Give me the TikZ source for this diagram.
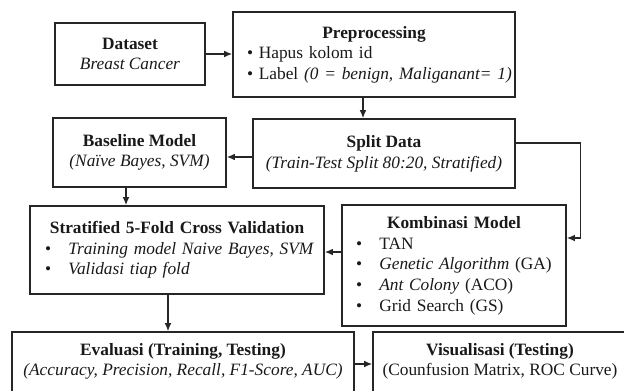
\documentclass[tikz,border=0pt]{standalone}
\usepackage{fontspec}
\setmainfont{Liberation Serif}
\usetikzlibrary{arrows.meta}
\newcommand{\blt}[1]{\mbox{\makebox[0pt][l]{\textbullet}\hspace*{17.5pt}#1}}
\newcommand{\ttl}[1]{\makebox[\hsize][c]{\textbf{#1}}}
\begin{document}
\begin{tikzpicture}[x=0.75pt,y=-0.75pt,
    font=\fontsize{13}{15.5}\selectfont,
    box/.style={draw=black!85, line width=1.2pt, align=center, inner sep=0pt, text=black!90},
    listbox/.style={box, align=left},
    flow/.style={-{Latex[length=6pt,width=5pt]}, line width=1pt, draw=black!85}]
  \useasboundingbox (0,0) rectangle (624,390);
  \clip (0,0) rectangle (624,390);
  \draw
    (130,54) node[box, minimum width=112.5pt, minimum height=46.5pt] (dataset)
      {\textbf{Dataset}\\\textit{Breast Cancer}}
    (374,54.5) node[listbox, minimum width=211.5pt, minimum height=63.75pt, text width=190.5pt] (prep)
      {\ttl{Preprocessing}\\\mbox{\textbullet{} Hapus kolom id}\\\mbox{\textbullet{} Label \textit{(0 = benign, Maliganant= 1)}}}
    (384,153.5) node[box, minimum width=196.5pt, minimum height=51.75pt] (split)
      {\textbf{Split Data}\\\textit{(Train-Test Split 80:20, Stratified)}}
    (139.5,152.5) node[box, minimum width=129.75pt, minimum height=51.75pt] (base)
      {\textbf{Baseline Model}\\\textit{(Naïve Bayes, SVM)}}
    (177,250) node[listbox, minimum width=220.5pt, minimum height=66pt, text width=198pt] (strat)
      {\ttl{Stratified 5-Fold Cross Validation}\\\blt{\textit{Training model Naive Bayes, SVM}}\\\blt{\textit{Validasi tiap fold}}}
    (454,265.5) node[listbox, minimum width=168pt, minimum height=90.75pt, text width=147pt] (komb)
      {\ttl{Kombinasi Model}\\\blt{TAN}\\\blt{\textit{Genetic Algorithm} (GA)}\\\blt{\textit{Ant Colony} (ACO)}\\\blt{Grid Search (GS)}}
    (183,380) node[box, minimum width=256.5pt, minimum height=72pt] (eval)
      {\textbf{Evaluasi (Training, Testing)}\\\textit{(Accuracy, Precision, Recall, F1-Score, AUC)}\\\mbox{}\\\mbox{}}
    (500,380) node[box, minimum width=190.5pt, minimum height=72pt] (vis)
      {\textbf{Visualisasi (Testing)}\\(Counfusion Matrix, ROC Curve)\\\mbox{}\\\mbox{}};
  \begin{scope}[flow]
    \draw (dataset.east) to (dataset.east -| prep.west);
    \draw ([xshift=-8.25pt]prep.south) to ([xshift=-8.25pt]prep.south |- split.north);
    \draw ([yshift=-2.6pt]split.west) to ([yshift=-2.6pt]split.west -| base.east);
    \draw ([yshift=7.9pt]split.east) -- ++(65,0) |- ([yshift=20.6pt]komb.east);
    \draw ([xshift=-10.1pt]base.south) to ([xshift=-10.1pt]base.south |- strat.north);
    \draw ([yshift=10.1pt]komb.west) to ([yshift=10.1pt]komb.west -| strat.east);
    \draw ([xshift=-6.75pt]strat.south) to ([xshift=-6.75pt]strat.south |- eval.north);
    \draw ([yshift=12pt]eval.east) to ([yshift=12pt]eval.east -| vis.west);
  \end{scope}
\end{tikzpicture}
\end{document}
